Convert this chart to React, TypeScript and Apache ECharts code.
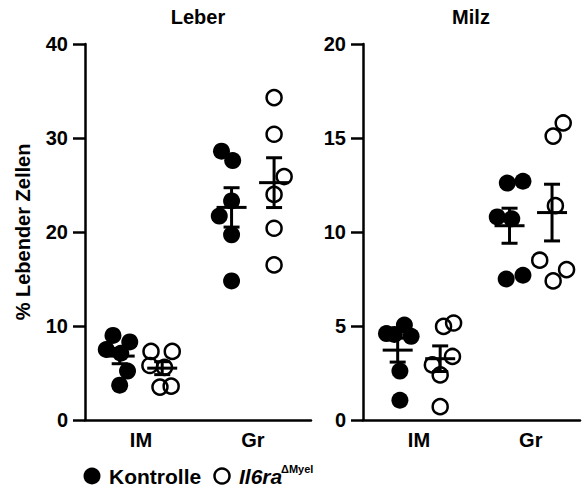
import React, { useEffect, useRef } from 'react';
import * as echarts from 'echarts';

// ---------- data ----------
const categories = ['IM', 'Gr'];
const panelTitles = ['Leber', 'Milz'];
const groupNames = ['Kontrolle', 'Il6ra'];
const yMax = [40, 20];
const yInterval = [10, 5];

// Leber (liver)
const leberKontrolleIM = [9.0, 8.3, 7.5, 7.1, 5.2, 3.7];
const leberKontrolleIMJitter = [-0.06, 0.09, -0.12, 0.01, 0.07, 0.0];
const leberIl6raIM = [7.3, 7.3, 5.8, 5.6, 3.5, 3.6];
const leberIl6raIMJitter = [-0.1, 0.09, -0.11, 0.02, -0.02, 0.08];
const leberKontrolleGr = [28.6, 27.6, 23.3, 21.7, 19.7, 14.8];
const leberKontrolleGrJitter = [-0.09, 0.01, 0.0, -0.11, 0.0, 0.0];
const leberIl6raGr = [34.3, 30.4, 25.9, 24.0, 20.4, 16.5];
const leberIl6raGrJitter = [0.0, 0.0, 0.09, 0.0, 0.0, 0.0];

// Milz (spleen)
const milzKontrolleIM = [4.6, 5.05, 4.45, 4.55, 2.6, 1.05];
const milzKontrolleIMJitter = [-0.1, 0.06, 0.12, -0.03, 0.02, 0.02];
const milzIl6raIM = [4.98, 5.16, 2.93, 3.38, 2.4, 0.71];
const milzIl6raIMJitter = [0.03, 0.12, -0.07, 0.11, 0.0, 0.0];
const milzKontrolleGr = [12.6, 12.7, 10.8, 10.7, 7.5, 7.7];
const milzKontrolleGrJitter = [-0.02, 0.12, -0.11, 0.02, -0.03, 0.12];
const milzIl6raGr = [15.1, 15.8, 11.4, 8.5, 7.4, 8.0];
const milzIl6raGrJitter = [0.01, 0.1, 0.03, -0.11, 0.01, 0.13];

const GROUP_OFFSET = 0.19;
const FONT = 'Arial, "Liberation Sans", Helvetica, sans-serif';

const mean = (a: number[]) => a.reduce((s, v) => s + v, 0) / a.length;
const sem = (a: number[]) => {
  const m = mean(a);
  const sd = Math.sqrt(a.reduce((s, v) => s + (v - m) * (v - m), 0) / (a.length - 1));
  return sd / Math.sqrt(a.length);
};

type Grp = { values: number[]; jitter: number[] };
const panelData: { kontrolle: Grp[]; il6ra: Grp[] }[] = [
  {
    kontrolle: [
      { values: leberKontrolleIM, jitter: leberKontrolleIMJitter },
      { values: leberKontrolleGr, jitter: leberKontrolleGrJitter },
    ],
    il6ra: [
      { values: leberIl6raIM, jitter: leberIl6raIMJitter },
      { values: leberIl6raGr, jitter: leberIl6raGrJitter },
    ],
  },
  {
    kontrolle: [
      { values: milzKontrolleIM, jitter: milzKontrolleIMJitter },
      { values: milzKontrolleGr, jitter: milzKontrolleGrJitter },
    ],
    il6ra: [
      { values: milzIl6raIM, jitter: milzIl6raIMJitter },
      { values: milzIl6raGr, jitter: milzIl6raGrJitter },
    ],
  },
];

export default function App() {
  const ref = useRef<HTMLDivElement>(null);

  useEffect(() => {
    if (!ref.current) return;
    const chart = echarts.init(ref.current, null, { renderer: 'svg' });

    const grids = [
      { left: 85, right: 271, top: 44, bottom: 68 },
      { left: 363, right: 2, top: 44, bottom: 68 },
    ];
    const xRanges = [
      [-0.5, 1.52],
      [-0.5, 1.44],
    ];

    const xAxis = grids.map((_, i) => ({
      gridIndex: i,
      type: 'value',
      min: xRanges[i][0],
      max: xRanges[i][1],
      interval: 0.5,
      axisLine: { show: true, onZero: false, lineStyle: { color: '#000', width: 2.5 } },
      axisTick: { show: false },
      splitLine: { show: false },
      axisLabel: {
        margin: 10,
        color: '#000',
        fontSize: 20,
        fontWeight: 'bold',
        fontFamily: FONT,
        showMinLabel: false,
        showMaxLabel: false,
        formatter: (v: number) => {
          const r = Math.round(v);
          if (Math.abs(v - r) < 1e-6 && r >= 0 && r < categories.length) return categories[r];
          return '';
        },
      },
    }));

    const yAxis = grids.map((_, i) => ({
      gridIndex: i,
      type: 'value',
      min: 0,
      max: yMax[i],
      interval: yInterval[i],
      axisLine: { show: true, onZero: false, lineStyle: { color: '#000', width: 2.5 } },
      axisTick: { show: true, length: 12, lineStyle: { color: '#000', width: 2.5 } },
      splitLine: { show: false },
      axisLabel: {
        margin: 17,
        color: '#000',
        fontSize: 20,
        fontWeight: 'bold',
        fontFamily: FONT,
      },
      name: i === 0 ? '% Lebender Zellen' : '',
      nameLocation: 'middle',
      nameGap: 52,
      nameTextStyle: { color: '#000', fontSize: 20, fontWeight: 'bold', fontFamily: FONT },
    }));

    const series: any[] = [];
    panelData.forEach((p, pi) => {
      const kData: number[][] = [];
      const iData: number[][] = [];
      const errData: number[][] = [];
      categories.forEach((_, ci) => {
        const k = p.kontrolle[ci];
        const il = p.il6ra[ci];
        k.values.forEach((v, j) => kData.push([ci - GROUP_OFFSET + k.jitter[j], v]));
        il.values.forEach((v, j) => iData.push([ci + GROUP_OFFSET + il.jitter[j], v]));
        errData.push([ci - GROUP_OFFSET, mean(k.values), sem(k.values)]);
        errData.push([ci + GROUP_OFFSET, mean(il.values), sem(il.values)]);
      });
      series.push({
        type: 'scatter',
        name: groupNames[0],
        xAxisIndex: pi,
        yAxisIndex: pi,
        symbol: 'circle',
        symbolSize: 17,
        itemStyle: { color: '#000', opacity: 1 },
        data: kData,
        z: 2,
      });
      series.push({
        type: 'scatter',
        name: groupNames[1],
        xAxisIndex: pi,
        yAxisIndex: pi,
        symbol: 'circle',
        symbolSize: 15,
        itemStyle: { color: 'rgba(255,255,255,0)', borderColor: '#000', borderWidth: 2.5, opacity: 1 },
        data: iData,
        z: 3,
      });
      series.push({
        type: 'custom',
        xAxisIndex: pi,
        yAxisIndex: pi,
        coordinateSystem: 'cartesian2d',
        encode: { x: 0, y: 1 },
        clip: false,
        z: 4,
        data: errData,
        renderItem: (params: any, api: any) => {
          const x = api.value(0);
          const m = api.value(1);
          const s = api.value(2);
          const c = api.coord([x, m]);
          const t = api.coord([x, m + s]);
          const b = api.coord([x, m - s]);
          const hw = 15;
          const cw = 8;
          const st = { stroke: '#000', lineWidth: 3, fill: 'none' };
          return {
            type: 'group',
            children: [
              { type: 'line', shape: { x1: c[0] - hw, y1: c[1], x2: c[0] + hw, y2: c[1] }, style: st },
              { type: 'line', shape: { x1: c[0], y1: t[1], x2: c[0], y2: b[1] }, style: st },
              { type: 'line', shape: { x1: c[0] - cw, y1: t[1], x2: c[0] + cw, y2: t[1] }, style: st },
              { type: 'line', shape: { x1: c[0] - cw, y1: b[1], x2: c[0] + cw, y2: b[1] }, style: st },
            ],
          };
        },
      });
    });

    const titleFont = `bold 20px ${FONT}`;
    const legendFont = `bold 21px ${FONT}`;
    const graphic: any[] = [
      { type: 'text', x: 198, y: 17, style: { text: panelTitles[0], font: titleFont, fill: '#000', align: 'center', verticalAlign: 'middle' } },
      { type: 'text', x: 471, y: 17, style: { text: panelTitles[1], font: titleFont, fill: '#000', align: 'center', verticalAlign: 'middle' } },
      // legend
      { type: 'circle', shape: { cx: 92, cy: 476, r: 8.5 }, style: { fill: '#000' } },
      { type: 'text', x: 109, y: 476, style: { text: groupNames[0], font: legendFont, fill: '#000', verticalAlign: 'middle' } },
      { type: 'circle', shape: { cx: 222, cy: 476, r: 7.5 }, style: { fill: 'none', stroke: '#000', lineWidth: 2.5 } },
      { type: 'text', x: 239, y: 476, style: { text: groupNames[1], font: `italic bold 21px ${FONT}`, fill: '#000', verticalAlign: 'middle' } },
      { type: 'text', x: 281, y: 469, style: { text: 'ΔMyel', font: `bold 11px ${FONT}`, fill: '#000', verticalAlign: 'middle' } },
    ];

    chart.setOption({
      animation: false,
      backgroundColor: '#fff',
      grid: grids,
      xAxis,
      yAxis,
      series,
      graphic,
    });

    return () => chart.dispose();
  }, []);

  return (
    <div
      ref={ref}
      style={{ position: 'absolute', left: 0, top: 0, width: 582, height: 488, background: '#fff' }}
    />
  );
}
